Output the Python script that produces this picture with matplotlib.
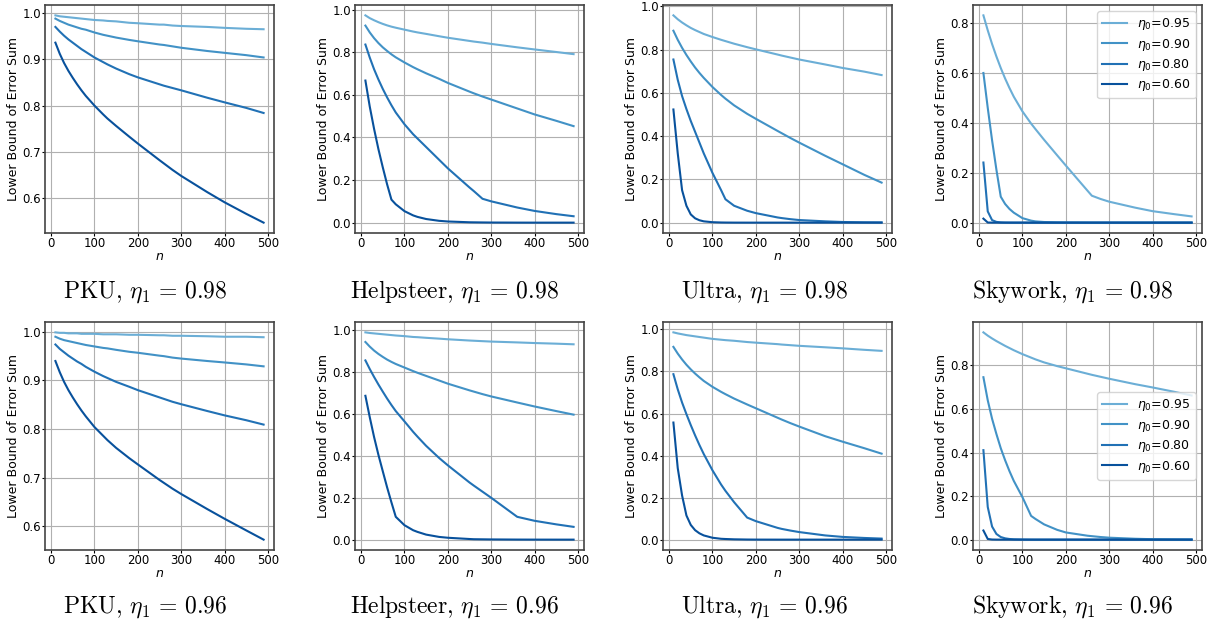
import matplotlib
matplotlib.use("Agg")
import matplotlib.pyplot as plt

# sample sizes shared by every curve
n_vals = [10, 20, 30, 40, 50, 60, 70, 80, 100, 120, 130, 150, 180, 200,
          250, 260, 280, 300, 360, 400, 450, 490]

eta0_labels = ["0.95", "0.90", "0.80", "0.60"]
colors = ["#6baed6", "#4292c6", "#2171b5", "#08519c"]

# ---- eta1 = 0.98 ----
pku_98 = [
    [0.995, 0.993, 0.992, 0.991, 0.990, 0.989, 0.988, 0.987, 0.985, 0.984, 0.983, 0.982, 0.979, 0.978, 0.975, 0.975, 0.973, 0.972, 0.970, 0.968, 0.966, 0.965],
    [0.988, 0.983, 0.979, 0.975, 0.972, 0.969, 0.966, 0.964, 0.958, 0.953, 0.951, 0.947, 0.942, 0.939, 0.932, 0.931, 0.928, 0.925, 0.918, 0.914, 0.909, 0.904],
    [0.970, 0.960, 0.951, 0.943, 0.936, 0.929, 0.922, 0.916, 0.904, 0.894, 0.889, 0.880, 0.868, 0.861, 0.846, 0.843, 0.838, 0.833, 0.817, 0.807, 0.795, 0.784],
    [0.936, 0.912, 0.892, 0.875, 0.860, 0.846, 0.833, 0.821, 0.800, 0.781, 0.772, 0.756, 0.733, 0.718, 0.682, 0.675, 0.661, 0.648, 0.613, 0.591, 0.566, 0.547],
]
helpsteer_98 = [
    [0.973, 0.960, 0.950, 0.941, 0.933, 0.926, 0.920, 0.915, 0.906, 0.897, 0.893, 0.886, 0.875, 0.868, 0.853, 0.850, 0.845, 0.839, 0.823, 0.813, 0.801, 0.791],
    [0.925, 0.893, 0.866, 0.843, 0.823, 0.806, 0.790, 0.776, 0.752, 0.730, 0.720, 0.701, 0.675, 0.656, 0.615, 0.607, 0.592, 0.578, 0.536, 0.508, 0.478, 0.453],
    [0.836, 0.775, 0.720, 0.672, 0.628, 0.588, 0.551, 0.517, 0.462, 0.415, 0.395, 0.355, 0.295, 0.255, 0.165, 0.148, 0.112, 0.100, 0.071, 0.055, 0.040, 0.030],
    [0.667, 0.545, 0.440, 0.345, 0.260, 0.180, 0.108, 0.086, 0.054, 0.034, 0.027, 0.017, 0.0085, 0.0054, 0.0017, 0.0014, 0.0009, 0.0005, 0.0001, 0.0, 0.0, 0.0],
]
ultra_98 = [
    [0.958, 0.940, 0.925, 0.912, 0.900, 0.890, 0.881, 0.872, 0.858, 0.845, 0.839, 0.827, 0.811, 0.801, 0.777, 0.772, 0.763, 0.754, 0.731, 0.715, 0.698, 0.682],
    [0.887, 0.845, 0.808, 0.775, 0.745, 0.717, 0.692, 0.669, 0.627, 0.590, 0.573, 0.542, 0.503, 0.480, 0.424, 0.413, 0.391, 0.370, 0.309, 0.270, 0.221, 0.185],
    [0.754, 0.660, 0.585, 0.525, 0.470, 0.420, 0.370, 0.320, 0.230, 0.150, 0.108, 0.078, 0.055, 0.044, 0.024, 0.021, 0.016, 0.012, 0.006, 0.003, 0.0015, 0.001],
    [0.523, 0.320, 0.150, 0.078, 0.038, 0.020, 0.011, 0.006, 0.002, 0.0007, 0.0004, 0.0001, 0.0, 0.0, 0.0, 0.0, 0.0, 0.0, 0.0, 0.0, 0.0, 0.0],
]
skywork_98 = [
    [0.831, 0.771, 0.716, 0.666, 0.620, 0.578, 0.540, 0.505, 0.446, 0.397, 0.375, 0.332, 0.270, 0.229, 0.128, 0.108, 0.095, 0.084, 0.060, 0.046, 0.034, 0.025],
    [0.600, 0.460, 0.330, 0.212, 0.104, 0.075, 0.055, 0.040, 0.018, 0.008, 0.005, 0.0025, 0.001, 0.0005, 0.0001, 0.0, 0.0, 0.0, 0.0, 0.0, 0.0, 0.0],
    [0.241, 0.045, 0.010, 0.003, 0.001, 0.0003, 0.0001, 0.0, 0.0, 0.0, 0.0, 0.0, 0.0, 0.0, 0.0, 0.0, 0.0, 0.0, 0.0, 0.0, 0.0, 0.0],
    [0.016, 0.0005, 0.0, 0.0, 0.0, 0.0, 0.0, 0.0, 0.0, 0.0, 0.0, 0.0, 0.0, 0.0, 0.0, 0.0, 0.0, 0.0, 0.0, 0.0, 0.0, 0.0],
]

# ---- eta1 = 0.96 ----
pku_96 = [
    [0.999, 0.998, 0.998, 0.997, 0.997, 0.997, 0.996, 0.996, 0.996, 0.995, 0.995, 0.995, 0.994, 0.994, 0.993, 0.993, 0.992, 0.992, 0.991, 0.990, 0.990, 0.989],
    [0.990, 0.986, 0.983, 0.981, 0.979, 0.977, 0.975, 0.973, 0.970, 0.967, 0.966, 0.963, 0.959, 0.957, 0.951, 0.950, 0.947, 0.945, 0.940, 0.937, 0.933, 0.929],
    [0.974, 0.965, 0.958, 0.951, 0.945, 0.939, 0.934, 0.928, 0.918, 0.909, 0.905, 0.897, 0.887, 0.880, 0.865, 0.862, 0.856, 0.851, 0.837, 0.828, 0.818, 0.809],
    [0.940, 0.917, 0.897, 0.880, 0.865, 0.851, 0.838, 0.826, 0.804, 0.786, 0.777, 0.761, 0.740, 0.727, 0.695, 0.689, 0.677, 0.666, 0.635, 0.615, 0.591, 0.572],
]
helpsteer_96 = [
    [0.990, 0.987, 0.985, 0.983, 0.981, 0.979, 0.977, 0.975, 0.972, 0.968, 0.967, 0.964, 0.960, 0.957, 0.951, 0.950, 0.948, 0.946, 0.942, 0.939, 0.936, 0.933],
    [0.944, 0.922, 0.903, 0.887, 0.873, 0.860, 0.849, 0.839, 0.822, 0.805, 0.797, 0.782, 0.760, 0.745, 0.713, 0.707, 0.695, 0.684, 0.655, 0.636, 0.614, 0.597],
    [0.856, 0.815, 0.777, 0.741, 0.707, 0.674, 0.643, 0.614, 0.565, 0.515, 0.492, 0.448, 0.390, 0.355, 0.273, 0.258, 0.229, 0.200, 0.109, 0.090, 0.073, 0.061],
    [0.687, 0.585, 0.490, 0.405, 0.327, 0.250, 0.178, 0.109, 0.069, 0.045, 0.037, 0.024, 0.013, 0.009, 0.003, 0.002, 0.0015, 0.001, 0.0003, 0.0001, 0.0, 0.0],
]
ultra_96 = [
    [0.986, 0.981, 0.977, 0.973, 0.970, 0.967, 0.964, 0.961, 0.955, 0.951, 0.949, 0.946, 0.940, 0.937, 0.930, 0.928, 0.925, 0.922, 0.915, 0.910, 0.903, 0.898],
    [0.917, 0.885, 0.857, 0.832, 0.810, 0.790, 0.772, 0.755, 0.727, 0.703, 0.692, 0.671, 0.643, 0.625, 0.580, 0.571, 0.554, 0.538, 0.492, 0.466, 0.435, 0.409],
    [0.787, 0.715, 0.652, 0.597, 0.545, 0.496, 0.450, 0.407, 0.330, 0.262, 0.232, 0.178, 0.105, 0.088, 0.056, 0.051, 0.043, 0.036, 0.020, 0.013, 0.008, 0.005],
    [0.557, 0.340, 0.210, 0.115, 0.070, 0.045, 0.030, 0.020, 0.009, 0.004, 0.003, 0.0015, 0.0005, 0.0002, 0.0, 0.0, 0.0, 0.0, 0.0, 0.0, 0.0, 0.0],
]
skywork_96 = [
    [0.952, 0.937, 0.924, 0.912, 0.901, 0.890, 0.880, 0.870, 0.852, 0.836, 0.828, 0.814, 0.797, 0.787, 0.762, 0.757, 0.748, 0.739, 0.714, 0.699, 0.679, 0.662],
    [0.746, 0.640, 0.555, 0.485, 0.420, 0.365, 0.315, 0.270, 0.195, 0.109, 0.095, 0.070, 0.045, 0.033, 0.018, 0.016, 0.012, 0.009, 0.004, 0.002, 0.001, 0.0005],
    [0.411, 0.150, 0.060, 0.026, 0.012, 0.006, 0.003, 0.0015, 0.0005, 0.0001, 0.0, 0.0, 0.0, 0.0, 0.0, 0.0, 0.0, 0.0, 0.0, 0.0, 0.0, 0.0],
    [0.042, 0.003, 0.0005, 0.0001, 0.0, 0.0, 0.0, 0.0, 0.0, 0.0, 0.0, 0.0, 0.0, 0.0, 0.0, 0.0, 0.0, 0.0, 0.0, 0.0, 0.0, 0.0],
]

datasets = ["PKU", "Helpsteer", "Ultra", "Skywork"]
eta1_vals = ["0.98", "0.96"]
panels = [[pku_98, helpsteer_98, ultra_98, skywork_98],
          [pku_96, helpsteer_96, ultra_96, skywork_96]]

fig = plt.figure(figsize=(12.17, 6.22), dpi=100)

lefts = [45, 355, 663, 973]
caption_x = [145, 454, 764, 1072]
row_top = [5, 322]
W, H = 1217, 622
ax_w, ax_h = 229, 228

for r in range(2):
    for c in range(4):
        ax = fig.add_axes([lefts[c] / W, 1 - (row_top[r] + ax_h) / H, ax_w / W, ax_h / H])
        for k in range(4):
            ax.plot(n_vals, panels[r][c][k], color=colors[k], lw=1.5,
                    label=r"$\eta_0$=" + eta0_labels[k])
        ax.grid(True, color="#b0b0b0", lw=0.8)
        ax.set_xticks([0, 100, 200, 300, 400, 500])
        ax.tick_params(labelsize=8.5, length=2.5, pad=0.3)
        ax.set_xlabel("$n$", fontsize=9, labelpad=0)
        ax.set_ylabel("Lower Bound of Error Sum", fontsize=9, labelpad=2)
        for s in ax.spines.values():
            s.set_color("#444444")
            s.set_linewidth(1.2)
        if c == 3:
            ax.legend(loc="upper right" if r == 0 else "center right", fontsize=9,
                      labelspacing=0.35)
        fig.text(caption_x[c] / W, 1 - (298 if r == 0 else 613) / H,
                 datasets[c] + r", $\eta_1\,=\," + eta1_vals[r] + "$",
                 ha="center", va="baseline", fontsize=17, family="cmr10",
                 math_fontfamily="cm")

fig.savefig("out.png", dpi=100)
